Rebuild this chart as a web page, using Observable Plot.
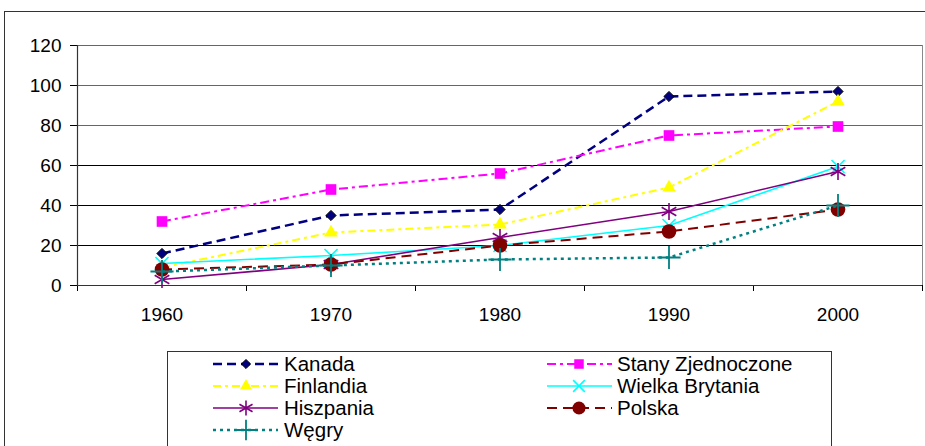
<!DOCTYPE html>
<html>
<head>
<meta charset="utf-8">
<script src="https://cdn.jsdelivr.net/npm/d3@7"></script>
<script src="https://cdn.jsdelivr.net/npm/@observablehq/plot@0.6"></script>
<style>
  html, body { margin: 0; padding: 0; background: #fff; }
  #wrap { position: relative; width: 925px; height: 446px; overflow: hidden; font-family: "Liberation Sans", Arial, sans-serif; }
  #frame { position: absolute; left: 4px; top: 11px; width: 1000px; height: 1000px; border: 1px solid #333; box-sizing: border-box; }
  #chart, #legend { position: absolute; left: 0; top: 0; }
</style>
</head>
<body>
<div id="wrap">
  <div id="frame"></div>
  <div id="chart"></div>
  <svg id="legend" width="925" height="446"></svg>
</div>
<script>
// ---- data ----
const years = [1960, 1970, 1980, 1990, 2000];
const yTicks = [0, 20, 40, 60, 80, 100, 120];
const seriesNames = ["Kanada", "Stany Zjednoczone", "Finlandia", "Wielka Brytania", "Hiszpania", "Polska", "Węgry"];
const kanada         = [16, 35, 38, 94.5, 97];
const stany          = [32, 48, 56, 75, 79.5];
const finlandia      = [9, 26.5, 30.5, 49, 92];
const wielkaBrytania = [11, 15, 20, 30, 59.5];
const hiszpania      = [3, 10.5, 24, 37, 57];
const polska         = [8, 10.5, 20, 27, 38];
const wegry          = [7, 10, 13, 14, 40];
const seriesValues = [kanada, stany, finlandia, wielkaBrytania, hiszpania, polska, wegry];

// ---- styles ----
const styles = {
  "Kanada":            {color: "#000080", dash: "9,5",      width: 2.5, symbol: "diamond2", d3sym: d3.symbolDiamond2, r: 4.6, fill: "#000080", stroke: "#000"},
  "Stany Zjednoczone": {color: "#FF00FF", dash: "9,4,3,4",  width: 2,   symbol: "square",   d3sym: d3.symbolSquare,   r: 6,   fill: "#FF00FF", stroke: "none"},
  "Finlandia":         {color: "#FFFF00", dash: "8,4,3,4",  width: 2,   symbol: "triangle", d3sym: d3.symbolTriangle, r: 5,   fill: "#FFFF00", stroke: "none"},
  "Wielka Brytania":   {color: "#00FFFF", dash: null,       width: 1.6, symbol: "times",    d3sym: d3.symbolTimes,    r: 6,   fill: "none",    stroke: "#00FFFF", sw: 1.6},
  "Hiszpania":         {color: "#800080", dash: null,       width: 1.6, symbol: "asterisk", d3sym: d3.symbolAsterisk, r: 8,   fill: "none",    stroke: "#800080", sw: 1.6},
  "Polska":            {color: "#800000", dash: "10,6",     width: 2,   symbol: "circle",   d3sym: d3.symbolCircle,   r: 7.3, fill: "#800000", stroke: "none"},
  "Węgry":             {color: "#008080", dash: "3,4",      width: 2.5, symbol: "plus",     d3sym: d3.symbolPlus,     r: 7.5, fill: "none",    stroke: "#008080", sw: 1.8}
};

const rows = seriesNames.map((name, i) => years.map((year, j) => ({series: name, year, value: seriesValues[i][j]})));

const step = years[1] - years[0];
const bounds = [years[0] - step / 2, ...years.map(y => y + step / 2)];

const seriesMarks = [];
seriesNames.forEach((name, i) => {
  const s = styles[name];
  seriesMarks.push(Plot.line(rows[i], {x: "year", y: "value", stroke: s.color, strokeWidth: s.width, strokeDasharray: s.dash || undefined, strokeLinecap: "butt", strokeLinejoin: "miter"}));
  seriesMarks.push(Plot.dot(rows[i], {x: "year", y: "value", symbol: () => s.symbol, r: s.r, fill: s.fill, stroke: s.stroke, strokeWidth: s.sw || 1}));
});

const chart = Plot.plot({
  width: 925,
  height: 446,
  marginLeft: 77,
  marginRight: 3,
  marginTop: 45,
  marginBottom: 161,
  x: {domain: [bounds[0], bounds[bounds.length - 1]]},
  y: {domain: [0, 120]},
  style: {fontFamily: "'Liberation Sans', Arial, sans-serif", fontSize: "19px", color: "#000", background: "transparent", overflow: "visible"},
  marks: [
    Plot.ruleY(yTicks.filter(d => d > 0 && d < 80), {stroke: "#000", strokeWidth: 1}),
    Plot.ruleY(yTicks.filter(d => d >= 80), {stroke: "#666", strokeWidth: 1}),
    Plot.ruleX([bounds[bounds.length - 1]], {stroke: "#888", strokeWidth: 1}),
    Plot.axisY({ticks: yTicks, tickSize: 7, tickPadding: 9, label: null, stroke: "#000"}),
    Plot.axisX({ticks: bounds, tickSize: 6, tickFormat: () => "", label: null, stroke: "#000"}),
    Plot.axisX({ticks: years, tickSize: 0, tickPadding: 22, tickFormat: d => String(d), label: null, fontSize: 19}),
    Plot.ruleX([bounds[0]], {stroke: "#333", strokeWidth: 1.2}),
    Plot.ruleY([0], {stroke: "#333", strokeWidth: 1.2}),
    ...seriesMarks
  ]
});
document.getElementById("chart").appendChild(chart);

// ---- legend ----
const lg = d3.select("#legend");
lg.append("rect").attr("x", 167.5).attr("y", 351.5).attr("width", 664).attr("height", 200)
  .attr("fill", "#fff").attr("stroke", "#333").attr("stroke-width", 1);
const colX = [{x0: 213, x1: 278, m: 246, t: 284}, {x0: 547, x1: 612, m: 579, t: 617}];
const rowY = [364, 386, 408, 430];
seriesNames.forEach((name, i) => {
  const s = styles[name];
  const c = colX[i % 2];
  const y = rowY[Math.floor(i / 2)];
  const g = lg.append("g");
  g.append("line").attr("x1", c.x0).attr("x2", c.x1).attr("y1", y).attr("y2", y)
    .attr("stroke", s.color).attr("stroke-width", s.width)
    .attr("stroke-dasharray", s.dash || null);
  g.append("path").attr("transform", `translate(${c.m},${y})`)
    .attr("d", d3.symbol(s.d3sym, Math.PI * s.r * s.r * 0.8)())
    .attr("fill", s.fill).attr("stroke", s.stroke).attr("stroke-width", s.sw || 1);
  g.append("text").attr("x", c.t).attr("y", y).attr("dy", "0.35em")
    .attr("font-family", "'Liberation Sans', Arial, sans-serif").attr("font-size", 20.5)
    .attr("fill", "#000").text(name);
});
</script>
</body>
</html>
